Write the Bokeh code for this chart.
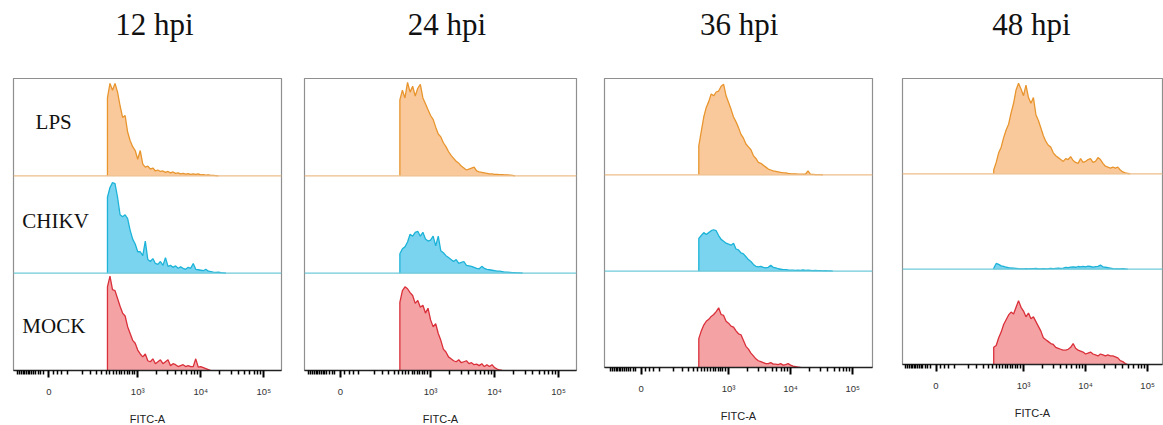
from bokeh.plotting import figure
from bokeh.layouts import row, column
from bokeh.models import Range1d, FixedTicker, Span, Label
from bokeh.core.properties import value
from bokeh.embed import file_html
from bokeh.resources import INLINE

# ---------------- data ----------------
TIMES = ["12 hpi", "24 hpi", "36 hpi", "48 hpi"]
ROWS = ["LPS", "CHIKV", "MOCK"]           # top to bottom
AXIS_LABEL = "FITC-A"
TICK_POS = [1.59, 3, 4, 5]                  # display units (biexponential, log10 above 10^3)
TICK_TEXT = ["0", "10\u00b3", "10\u2074", "10\u2075"]

# histogram bin centres, display units
BINS = [round(2.52 + 0.04 * k, 2) for k in range(60)]

# relative counts (fraction of row height) per bin
LPS_12 = [0.80, 0.95, 0.88, 0.95, 0.86, 0.72, 0.60, 0.62, 0.45, 0.36, 0.30, 0.26, 0.17, 0.26, 0.12,
          0.09, 0.10, 0.07, 0.08, 0.05, 0.06, 0.045, 0.05, 0.035, 0.045, 0.03, 0.04, 0.025, 0.03,
          0.02, 0.025, 0.018, 0.022, 0.015, 0.02, 0.015, 0.02, 0.01, 0.012, 0.008, 0.01, 0.005,
          0.004, 0.003, 0.0]
CHIKV_12 = [0.78, 0.88, 0.93, 0.92, 0.78, 0.60, 0.58, 0.60, 0.56, 0.44, 0.35, 0.30, 0.22, 0.22, 0.18,
            0.33, 0.14, 0.12, 0.15, 0.10, 0.09, 0.12, 0.08, 0.16, 0.07, 0.08, 0.06, 0.075, 0.05,
            0.065, 0.05, 0.04, 0.06, 0.05, 0.10, 0.04, 0.035, 0.03, 0.025, 0.04, 0.02, 0.015,
            0.01, 0.008, 0.01, 0.006, 0.004, 0.0]
MOCK_12 = [0.86, 0.97, 0.83, 0.82, 0.74, 0.66, 0.59, 0.56, 0.45, 0.38, 0.31, 0.28, 0.21, 0.17, 0.14,
           0.17, 0.10, 0.09, 0.12, 0.07, 0.09, 0.11, 0.07, 0.09, 0.11, 0.05, 0.07, 0.06, 0.04,
           0.05, 0.06, 0.04, 0.05, 0.04, 0.04, 0.12, 0.035, 0.04, 0.03, 0.02, 0.01, 0.0]

LPS_24 = [0.78, 0.88, 0.80, 0.96, 0.86, 0.92, 0.82, 0.90, 0.94, 0.80, 0.74, 0.68, 0.62, 0.58, 0.50,
          0.43, 0.40, 0.34, 0.30, 0.25, 0.21, 0.18, 0.15, 0.13, 0.10, 0.08, 0.06, 0.07, 0.08,
          0.09, 0.05, 0.04, 0.035, 0.03, 0.025, 0.02, 0.02, 0.015, 0.015, 0.012, 0.012, 0.01,
          0.01, 0.008, 0.005, 0.0]
CHIKV_24 = [0.20, 0.25, 0.27, 0.32, 0.40, 0.38, 0.42, 0.43, 0.38, 0.42, 0.35, 0.33, 0.34, 0.38, 0.28,
            0.38, 0.23, 0.21, 0.18, 0.16, 0.14, 0.12, 0.14, 0.10, 0.11, 0.12, 0.08, 0.075, 0.07,
            0.06, 0.05, 0.045, 0.07, 0.05, 0.04, 0.035, 0.03, 0.025, 0.02, 0.02, 0.015, 0.01,
            0.01, 0.008, 0.006, 0.005, 0.004, 0.003, 0.0]
MOCK_24 = [0.70, 0.82, 0.86, 0.84, 0.80, 0.77, 0.69, 0.72, 0.65, 0.67, 0.59, 0.64, 0.52, 0.45, 0.48,
           0.38, 0.31, 0.22, 0.19, 0.14, 0.12, 0.10, 0.09, 0.11, 0.08, 0.09, 0.10, 0.07, 0.08,
           0.06, 0.065, 0.05, 0.07, 0.04, 0.06, 0.04, 0.06, 0.03, 0.015, 0.005, 0.0]

LPS_36 = [0.30, 0.45, 0.60, 0.70, 0.76, 0.84, 0.82, 0.86, 0.87, 0.92, 0.94, 0.82, 0.75, 0.68, 0.60,
          0.55, 0.49, 0.42, 0.38, 0.32, 0.29, 0.26, 0.20, 0.17, 0.13, 0.12, 0.10, 0.08, 0.06,
          0.05, 0.04, 0.035, 0.03, 0.025, 0.022, 0.02, 0.015, 0.012, 0.01, 0.01, 0.008, 0.008,
          0.006, 0.006, 0.04, 0.005, 0.004, 0.003, 0.003, 0.002, 0.0]
CHIKV_36 = [0.34, 0.37, 0.40, 0.38, 0.40, 0.42, 0.43, 0.42, 0.37, 0.33, 0.31, 0.29, 0.28, 0.27, 0.29,
            0.23, 0.22, 0.19, 0.18, 0.15, 0.12, 0.10, 0.07, 0.05, 0.045, 0.05, 0.04, 0.035, 0.04,
            0.06, 0.04, 0.035, 0.025, 0.02, 0.015, 0.015, 0.012, 0.01, 0.01, 0.008, 0.01, 0.008,
            0.012, 0.008, 0.01, 0.008, 0.006, 0.008, 0.005, 0.006, 0.004, 0.005, 0.003, 0.002, 0.0]
MOCK_36 = [0.30, 0.38, 0.44, 0.48, 0.50, 0.53, 0.55, 0.58, 0.62, 0.55, 0.54, 0.48, 0.46, 0.43, 0.42,
           0.38, 0.35, 0.34, 0.28, 0.22, 0.19, 0.15, 0.12, 0.09, 0.07, 0.06, 0.05, 0.04, 0.04,
           0.05, 0.035, 0.035, 0.03, 0.04, 0.025, 0.03, 0.04, 0.025, 0.015, 0.01, 0.005, 0.0]

LPS_48 = [0.04, 0.12, 0.22, 0.28, 0.38, 0.46, 0.52, 0.64, 0.74, 0.88, 0.95, 0.89, 0.82, 0.93, 0.80,
          0.74, 0.80, 0.62, 0.56, 0.48, 0.40, 0.34, 0.30, 0.28, 0.22, 0.19, 0.17, 0.15, 0.13,
          0.16, 0.15, 0.18, 0.14, 0.12, 0.11, 0.16, 0.12, 0.13, 0.15, 0.16, 0.12, 0.13, 0.17,
          0.15, 0.11, 0.08, 0.07, 0.06, 0.07, 0.06, 0.07, 0.04, 0.02, 0.01, 0.005, 0.0]
CHIKV_48 = [0.01, 0.06, 0.05, 0.035, 0.03, 0.02, 0.015, 0.012, 0.01, 0.008, 0.005, 0.004, 0.003,
            0.005, 0.004, 0.006, 0.005, 0.007, 0.004, 0.003, 0.006, 0.004, 0.005, 0.007, 0.006,
            0.008, 0.01, 0.009, 0.012, 0.018, 0.015, 0.022, 0.025, 0.02, 0.028, 0.025, 0.03,
            0.024, 0.032, 0.028, 0.022, 0.026, 0.03, 0.042, 0.025, 0.02, 0.015, 0.01, 0.005,
            0.003, 0.004, 0.002, 0.005, 0.002, 0.0]
MOCK_48 = [0.18, 0.20, 0.28, 0.34, 0.42, 0.47, 0.52, 0.55, 0.53, 0.60, 0.67, 0.60, 0.56, 0.50, 0.54,
           0.48, 0.50, 0.45, 0.40, 0.35, 0.28, 0.26, 0.24, 0.22, 0.21, 0.18, 0.17, 0.16, 0.15,
           0.15, 0.16, 0.18, 0.22, 0.17, 0.15, 0.14, 0.13, 0.11, 0.12, 0.13, 0.11, 0.10, 0.09,
           0.11, 0.10, 0.09, 0.10, 0.09, 0.09, 0.08, 0.07, 0.04, 0.03, 0.01, 0.0]

PANELS = [
    [LPS_12, CHIKV_12, MOCK_12],
    [LPS_24, CHIKV_24, MOCK_24],
    [LPS_36, CHIKV_36, MOCK_36],
    [LPS_48, CHIKV_48, MOCK_48],
]

# ---------------- style / layout ----------------
LINE_COL = ["#E8952E", "#1DB3D8", "#D9303A"]
FILL_COL = ["#FAC99B", "#7AD4EF", "#F5A2A5"]
BASE_COL = ["#EDBE8A", "#6ECAD9"]
FRAME_W = [268, 272, 268, 260]
FRAME_H = [292, 292, 289, 286]
BORDER_L = [13, 9, 8, 10]
BORDER_R = [14, 20, 20, 1]
TOTAL_W = 1163
TOP = 78
TOTAL_H = 424
X_START = [1.03, 1.03, 1.00, 1.05]
X_END = [5.28, 5.28, 5.32, 5.24]
MINOR = [1.10, 1.13, 1.16, 1.19, 1.21, 1.24, 1.26, 1.29, 1.32, 1.35, 1.38, 1.42, 1.46, 1.50,
         1.66, 1.73, 1.79, 1.88, 2.12, 2.25, 2.35, 2.43, 2.50, 2.56, 2.61, 2.66, 2.71, 2.75,
         2.79, 2.83, 2.87, 2.91, 2.95,
         3.30, 3.48, 3.60, 3.70, 3.78, 3.85, 3.90, 3.95,
         4.30, 4.48, 4.60, 4.70, 4.78, 4.85, 4.90, 4.95]
SERIF = "Liberation Serif"
SANS = "Liberation Sans"

# ---- title strip: one column index per panel ----
tf = figure(width=TOTAL_W, height=TOP, x_range=Range1d(-0.527, 3.452), y_range=Range1d(0, 1),
            output_backend="svg", toolbar_location=None, min_border=0,
            x_axis_location=None, y_axis_location=None)
tf.grid.visible = False
tf.outline_line_color = None
tf.text(x=list(range(len(TIMES))), y=[0.69] * len(TIMES), text=TIMES,
        text_font=value(SERIF), text_font_size="31px", text_align="center",
        text_baseline="alphabetic", text_color="#111111")

figs = []
for i, hists in enumerate(PANELS):
    n_rows = len(ROWS)
    p = figure(frame_width=FRAME_W[i], frame_height=FRAME_H[i],
               min_border_left=BORDER_L[i], min_border_right=BORDER_R[i],
               min_border_top=0, min_border_bottom=TOTAL_H - TOP - FRAME_H[i],
               x_range=Range1d(X_START[i], X_END[i]), y_range=Range1d(0, n_rows),
               output_backend="svg", toolbar_location=None, y_axis_location=None)
    p.grid.visible = False
    p.outline_line_color = "#8f8f8f"
    p.outline_line_width = 1.2
    p.background_fill_color = "white"
    p.border_fill_color = "white"

    for r, h in enumerate(hists):
        off = n_rows - 1 - r
        xs = [BINS[0]] + BINS[:len(h)]
        ys = [off] + [off + v for v in h]
        if r < n_rows - 1:
            p.add_layout(Span(location=off, dimension="width", line_color=BASE_COL[r],
                              line_width=1.3))
        p.varea(x=xs, y1=[off] * len(xs), y2=ys, fill_color=FILL_COL[r])
        p.line(x=xs, y=ys, line_color=LINE_COL[r], line_width=1.3)

    if i == 0:
        lab_x = [1.38, 1.17, 1.17]
        lab_y = [2.55, 1.54, 0.46]
        for r, name in enumerate(ROWS):
            p.add_layout(Label(x=lab_x[r], y=lab_y[r], text=name, text_font=SERIF,
                               text_font_size="21px", text_baseline="middle",
                               text_color="#111111"))

    ax = p.xaxis[0]
    ax.ticker = FixedTicker(ticks=TICK_POS, minor_ticks=MINOR)
    ax.major_label_overrides = dict(zip(TICK_POS, TICK_TEXT))
    ax.major_label_text_font = SANS
    ax.major_label_text_font_size = "9.5px"
    ax.major_label_text_color = "#333333"
    ax.major_label_standoff = 8
    ax.major_tick_in = 0
    ax.major_tick_out = 7
    ax.major_tick_line_width = 2
    ax.minor_tick_in = 0
    ax.minor_tick_out = 4
    ax.minor_tick_line_width = 1.5
    ax.axis_line_color = "#222222"
    ax.axis_line_width = 1.3
    ax.axis_label = AXIS_LABEL
    ax.axis_label_text_font = SANS
    ax.axis_label_text_font_size = "11px"
    ax.axis_label_text_font_style = "normal"
    ax.axis_label_text_color = "#222222"
    ax.axis_label_standoff = 13
    figs.append(p)

layout = column(tf, row(*figs, spacing=0), spacing=0)
open("out.html", "w").write(file_html(layout, INLINE))
